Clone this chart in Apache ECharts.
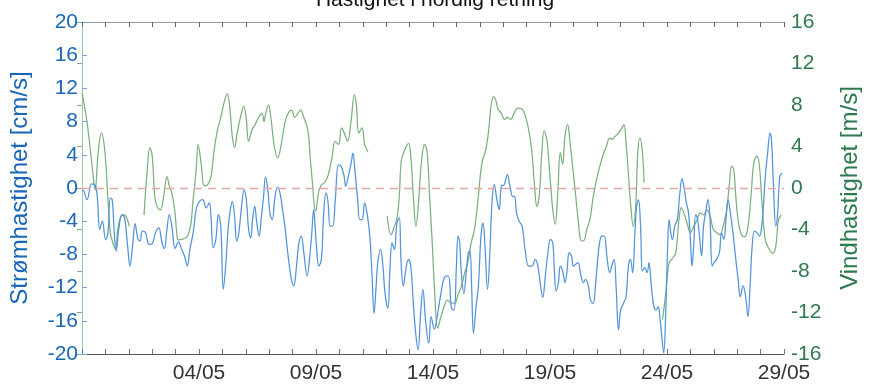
<!DOCTYPE html>
<html>
<head>
<meta charset="utf-8">
<script src="https://cdn.jsdelivr.net/npm/echarts@6/dist/echarts.min.js"></script>
<style>
  html, body { margin: 0; padding: 0; background: #fff; }
  #chart { width: 870px; height: 384px; }
</style>
</head>
<body>
<div id="chart"></div>
<script>
// x = days after 29/04
const labelDays = [5, 10, 15, 20, 25, 30];
const dateLabels = ['04/05', '09/05', '14/05', '19/05', '24/05', '29/05'];

// current speed north [cm/s]
const current = [
  [0.02,-0.2],[0.08,-0.4],[0.22,-1.4],[0.41,0.5],[0.55,0.4],[0.65,-1.0],[0.76,-5.0],[0.87,-4.0],
  [1.01,-6.2],[1.11,-5.4],[1.21,-1.2],[1.29,-1.4],[1.37,-5.0],[1.46,-7.6],[1.57,-5.0],[1.71,-3.2],
  [1.82,-3.6],[1.95,-7.0],[2.05,-9.4],[2.16,-7.0],[2.27,-4.3],[2.38,-6.0],[2.48,-6.4],[2.58,-5.2],
  [2.72,-5.4],[2.86,-6.8],[3.0,-6.7],[3.14,-5.4],[3.28,-4.8],[3.42,-6.6],[3.52,-7.3],[3.63,-5.0],
  [3.73,-3.2],[3.84,-4.6],[3.98,-7.3],[4.12,-6.5],[4.26,-7.4],[4.38,-8.2],[4.50,-9.4],[4.61,-7.4],
  [4.75,-5.4],[4.89,-2.4],[5.02,-1.6],[5.16,-1.4],[5.30,-2.4],[5.44,-1.8],[5.51,-3.4],[5.61,-7.2],
  [5.72,-6.2],[5.83,-3.2],[5.93,-4.6],[6.04,-12.2],[6.14,-9.4],[6.24,-5.0],[6.32,-3.0],[6.42,-1.6],
  [6.52,-3.4],[6.61,-6.4],[6.70,-5.4],[6.82,-2.2],[6.93,-0.2],[7.03,-1.6],[7.12,-5.0],[7.21,-6.0],
  [7.29,-3.8],[7.38,-2.2],[7.47,-4.2],[7.57,-5.8],[7.66,-3.6],[7.76,-1.0],[7.84,1.3],[7.94,-0.2],
  [8.04,-3.2],[8.13,-3.8],[8.25,-1.0],[8.36,0.1],[8.46,-0.6],[8.55,-2.2],[8.67,-4.6],[8.81,-8.2],
  [8.95,-11.0],[9.05,-11.8],[9.16,-9.6],[9.26,-6.8],[9.37,-5.8],[9.48,-7.8],[9.62,-10.6],[9.72,-8.6],
  [9.82,-5.4],[9.90,-2.6],[9.96,-4.5],[10.03,-7.4],[10.12,-9.4],[10.23,-8.6],[10.33,-3.0],[10.43,-0.6],
  [10.51,-1.6],[10.61,-4.6],[10.71,-4.6],[10.82,-1.6],[10.96,2.8],[11.07,2.6],[11.19,1.6],[11.27,0.2],
  [11.38,1.4],[11.50,3.0],[11.58,4.2],[11.66,2.2],[11.78,-1.4],[11.87,-3.8],[11.97,-3.8],[12.08,-1.8],
  [12.20,-3.4],[12.30,-5.8],[12.39,-10.2],[12.48,-15.1],[12.57,-11.8],[12.64,-9.0],[12.76,-7.4],[12.86,-9.4],
  [12.95,-12.7],[13.07,-14.5],[13.16,-9.8],[13.25,-6.6],[13.35,-7.4],[13.46,-4.2],[13.56,-3.6],[13.63,-8.6],
  [13.73,-11.8],[13.84,-9.8],[13.95,-8.6],[14.05,-9.4],[14.16,-13.9],[14.26,-17.5],[14.36,-19.5],[14.47,-15.1],
  [14.57,-12.2],[14.68,-15.9],[14.82,-18.7],[14.92,-15.5],[15.06,-17.0],[15.20,-15.1],[15.34,-12.7],[15.48,-10.8],
  [15.65,-10.6],[15.79,-14.5],[15.90,-14.7],[16.00,-9.4],[16.07,-5.8],[16.14,-6.6],[16.21,-10.2],[16.32,-12.7],
  [16.42,-10.2],[16.51,-7.8],[16.58,-7.6],[16.65,-11.8],[16.73,-17.5],[16.84,-14.3],[16.94,-11.8],[17.05,-5.8],
  [17.14,-4.2],[17.22,-7.0],[17.33,-12.2],[17.43,-7.8],[17.52,-1.8],[17.62,0.4],[17.73,-1.4],[17.83,-2.6],
  [17.92,0.2],[18.04,0.4],[18.18,1.6],[18.29,0.2],[18.40,-1.0],[18.48,-1.0],[18.57,-3.0],[18.68,-4.0],
  [18.81,-4.6],[18.95,-7.8],[19.09,-9.4],[19.23,-9.4],[19.37,-8.6],[19.48,-9.4],[19.58,-11.4],[19.69,-13.2],
  [19.80,-10.6],[19.91,-7.8],[20.02,-6.2],[20.12,-6.6],[20.19,-10.2],[20.26,-12.4],[20.36,-11.4],[20.44,-9.4],
  [20.54,-10.0],[20.64,-11.4],[20.72,-10.2],[20.82,-7.8],[20.92,-8.2],[21.00,-9.4],[21.10,-9.2],[21.20,-9.0],
  [21.31,-10.4],[21.43,-11.4],[21.52,-11.0],[21.64,-11.8],[21.73,-13.5],[21.85,-13.9],[21.94,-11.8],[22.04,-8.6],
  [22.13,-6.4],[22.22,-5.8],[22.32,-5.8],[22.43,-8.2],[22.55,-10.2],[22.64,-9.4],[22.74,-8.6],[22.83,-12.2],
  [22.93,-17.1],[23.02,-14.7],[23.14,-13.9],[23.25,-13.1],[23.35,-9.4],[23.44,-8.6],[23.53,-10.2],[23.63,-5.4],
  [23.70,-2.2],[23.78,-1.4],[23.87,-4.6],[23.95,-10.0],[24.05,-9.6],[24.15,-10.2],[24.23,-9.0],[24.33,-11.8],
  [24.44,-14.3],[24.54,-14.7],[24.62,-14.3],[24.71,-15.9],[24.79,-18.3],[24.86,-19.9],[24.94,-15.5],[25.02,-7.8],
  [25.09,-3.8],[25.16,-5.4],[25.23,-6.2],[25.33,-4.6],[25.44,-3.8],[25.55,-0.6],[25.64,1.1],[25.72,0.2],
  [25.83,-1.8],[25.92,-3.0],[26.00,-6.2],[26.07,-9.4],[26.14,-7.0],[26.23,-3.2],[26.31,-3.8],[26.40,-6.2],
  [26.48,-8.2],[26.56,-4.6],[26.65,-3.0],[26.75,-1.4],[26.84,-3.8],[26.93,-9.4],[27.01,-9.0],[27.12,-8.6],
  [27.24,-7.8],[27.33,-5.4],[27.43,-6.2],[27.52,-3.8],[27.61,-1.4],[27.71,-3.0],[27.82,-5.4],[27.94,-8.6],
  [28.04,-11.0],[28.13,-13.1],[28.25,-11.8],[28.36,-13.1],[28.46,-15.5],[28.55,-11.8],[28.64,-7.0],[28.74,-5.2],
  [28.85,-5.4],[28.95,-5.8],[29.03,-5.0],[29.12,-2.2],[29.20,1.4],[29.30,4.2],[29.40,6.6],[29.47,5.6],
  [29.55,0.2],[29.65,-4.6],[29.73,-3.0],[29.82,1.4],[29.92,1.8]
];

// wind speed north [m/s], with gaps between the pieces
const wind1 = [
  [0.0,9.2],[0.20,6.6],[0.34,4.0],[0.48,1.1],[0.56,-0.2],[0.69,3.4],[0.83,5.3],[0.97,3.7],
  [1.11,-1.1],[1.21,-4.3],[1.32,-5.3],[1.43,-5.9],[1.53,-4.0],[1.67,-2.7],[1.81,-2.6],[1.95,-3.1],[2.02,-3.7]
];
const wind2 = [
  [2.65,-2.6],[2.79,1.8],[2.90,3.9],[3.00,3.1],[3.11,-0.8],[3.21,-1.8],[3.35,-2.1],[3.49,-0.8],
  [3.63,1.1],[3.73,0.2],[3.84,-0.5],[3.96,-2.1],[4.05,-4.3],[4.12,-5.0],[4.54,-4.5],[4.75,-1.1],
  [4.89,2.1],[4.96,4.2],[5.09,2.4],[5.23,0.2],[5.37,0.3],[5.51,1.1],[5.65,3.7],[5.79,5.6],
  [5.93,6.8],[6.07,8.2],[6.21,9.1],[6.32,7.6],[6.42,5.0],[6.52,3.9],[6.63,5.3],[6.77,6.8],
  [6.91,7.9],[7.01,6.9],[7.12,4.5],[7.26,5.6],[7.40,6.1],[7.54,6.8],[7.69,7.2],[7.78,6.4],
  [7.85,7.2],[7.97,8.0],[8.08,6.6],[8.22,4.0],[8.36,2.9],[8.50,4.0],[8.67,6.3],[8.81,7.2],
  [8.95,7.5],[9.09,6.8],[9.23,7.2],[9.34,7.5],[9.48,6.8],[9.65,5.6],[9.76,2.7],[9.86,0.2],
  [9.93,-1.8],[9.99,-2.2],[10.08,-0.8],[10.20,0.2],[10.40,0.6],[10.54,1.4],[10.68,2.9],[10.82,4.5],
  [10.96,4.2],[11.10,5.8],[11.24,5.1],[11.35,4.5],[11.49,6.3],[11.64,9.0],[11.73,7.9],[11.83,5.3],
  [11.97,5.8],[12.08,4.2],[12.22,3.5]
];
const wind3 = [
  [13.04,-2.7],[13.21,-4.5],[13.35,-3.7],[13.46,-2.9],[13.56,-0.8],[13.65,2.7],[13.80,3.7],[13.95,4.3],
  [14.05,3.1],[14.16,-0.8],[14.27,-3.7],[14.40,-0.8],[14.50,2.4],[14.64,4.2],[14.75,3.4],[14.86,-1.1],
  [14.96,-5.0],[15.06,-9.5],[15.20,-13.5],[15.34,-12.4],[15.48,-11.4],[15.62,-10.8],[15.79,-11.1],[15.93,-11.1],
  [16.07,-10.3],[16.21,-9.5],[16.35,-8.2],[16.49,-7.2],[16.63,-5.3],[16.77,-4.0],[16.91,-1.4],[17.03,1.4],
  [17.12,2.7],[17.26,3.7],[17.38,5.6],[17.48,7.9],[17.59,8.8],[17.69,8.4],[17.78,7.6],[17.92,7.2],
  [18.06,6.6],[18.18,6.8],[18.32,6.6],[18.46,7.2],[18.62,7.7],[18.81,7.6],[18.95,6.9],[19.09,5.6],
  [19.23,3.4],[19.33,0.5],[19.44,-1.8],[19.55,-0.5],[19.65,3.4],[19.75,5.5],[19.86,4.7],[19.91,3.7],
  [20.02,0.5],[20.12,-2.1],[20.22,-3.5],[20.33,-0.5],[20.44,3.4],[20.54,2.3],[20.64,5.0],[20.75,6.1],
  [20.86,4.3],[20.98,1.8],[21.10,-0.8],[21.20,-3.0],[21.31,-5.0],[21.43,-5.1],[21.57,-4.0],[21.71,-3.0],
  [21.85,-0.8],[21.99,0.8],[22.13,2.1],[22.27,3.2],[22.41,4.0],[22.55,4.8],[22.66,4.7],[22.79,5.0],
  [22.93,5.3],[23.07,5.8],[23.16,6.1],[23.25,4.3],[23.35,1.4],[23.44,-1.4],[23.56,-3.7],[23.67,-1.4],
  [23.75,3.4],[23.84,4.8],[23.94,3.7],[24.02,0.5]
];
const wind4 = [
  [24.81,-12.7],[24.95,-10.1],[25.09,-7.2],[25.23,-6.8],[25.37,-6.3],[25.51,-3.1],[25.61,-1.9],[25.72,-2.4],
  [25.86,-3.4],[26.00,-4.3],[26.14,-3.7],[26.28,-3.1],[26.42,-2.4],[26.56,-2.6],[26.70,-2.1],[26.84,-2.7],
  [26.98,-4.0],[27.12,-4.3],[27.26,-4.5],[27.40,-3.7],[27.55,-2.1],[27.66,0.2],[27.76,2.1],[27.85,1.8],
  [27.94,-0.8],[28.04,-3.1],[28.18,-4.5],[28.32,-4.7],[28.46,-3.7],[28.60,-0.5],[28.71,2.4],[28.85,3.1],
  [28.95,2.1],[29.06,-1.4],[29.20,-5.0],[29.37,-5.9],[29.51,-6.3],[29.65,-5.6],[29.76,-3.1],[29.88,-2.6]
];

const blueText = '#1a66b8';
const greenText = '#2e7a50';
const font = 'Liberation Sans, Arial, sans-serif';

const chart = echarts.init(document.getElementById('chart'), null, { renderer: 'canvas' });

function windSeries(data) {
  return {
    type: 'line', yAxisIndex: 1, data: data, showSymbol: false, smooth: 0.4,
    lineStyle: { color: '#7cb07d', width: 1.25 }, z: 2
  };
}

const xCommon = {
  type: 'value', min: 0, max: 30, interval: 1,
  axisLine: { onZero: false, lineStyle: { color: '#555', width: 1 } },
  axisTick: { inside: true, length: 5, lineStyle: { color: '#5577aa' } },
  splitLine: { show: false }
};

chart.setOption({
  animation: false,
  backgroundColor: '#fff',
  title: {
    text: 'Hastighet i nordlig retning',
    left: 'center', top: -15,
    textStyle: { fontFamily: font, fontSize: 21, fontWeight: 'normal', color: '#111' }
  },
  grid: { left: 82, right: 75, top: 22, bottom: 30, containLabel: false },
  xAxis: [
    Object.assign({}, xCommon, {
      position: 'bottom',
      axisLabel: {
        fontFamily: font, fontSize: 21, color: '#333', margin: 9,
        formatter: (v) => {
          const i = labelDays.indexOf(Math.round(v));
          return i >= 0 ? dateLabels[i] : '';
        }
      }
    }),
    Object.assign({}, xCommon, {
      position: 'top',
      axisLine: { onZero: false, lineStyle: { color: '#999', width: 1 } },
      axisTick: { inside: true, length: 5, lineStyle: { color: '#666' } },
      axisLabel: { show: false }
    })
  ],
  yAxis: [
    {
      type: 'value', min: -20, max: 20, interval: 4, position: 'left',
      name: 'Strømhastighet [cm/s]', nameLocation: 'middle', nameRotate: 90, nameGap: 50,
      nameTextStyle: { fontFamily: font, fontSize: 24, color: blueText },
      axisLine: { show: true, lineStyle: { color: '#9cc0e6' } },
      axisTick: { show: true, inside: true, length: 5, lineStyle: { color: '#7aa6d6' } },
      axisLabel: { fontFamily: font, fontSize: 21, color: blueText, margin: 4 },
      splitLine: { show: false }
    },
    {
      type: 'value', min: -16, max: 16, interval: 4, position: 'right',
      name: 'Vindhastighet [m/s]', nameLocation: 'middle', nameRotate: 90, nameGap: 54,
      nameTextStyle: { fontFamily: font, fontSize: 24, color: greenText },
      axisLine: { show: true, lineStyle: { color: '#9ccaa6' } },
      axisTick: { show: true, inside: true, length: 5, lineStyle: { color: '#7fae8a' } },
      axisLabel: { fontFamily: font, fontSize: 21, color: greenText, margin: 7 },
      splitLine: { show: false }
    }
  ],
  series: [
    windSeries(wind1), windSeries(wind2), windSeries(wind3), windSeries(wind4),
    {
      type: 'line', yAxisIndex: 0, data: current, showSymbol: false, smooth: 0.4,
      lineStyle: { color: '#5293da', width: 1.25 }, z: 3,
      markLine: {
        silent: true, symbol: ['none', 'none'], label: { show: false },
        lineStyle: { color: '#e8a6a6', type: [8, 6], width: 1.3 },
        data: [{ yAxis: 0 }]
      }
    }
  ]
});
</script>
</body>
</html>
